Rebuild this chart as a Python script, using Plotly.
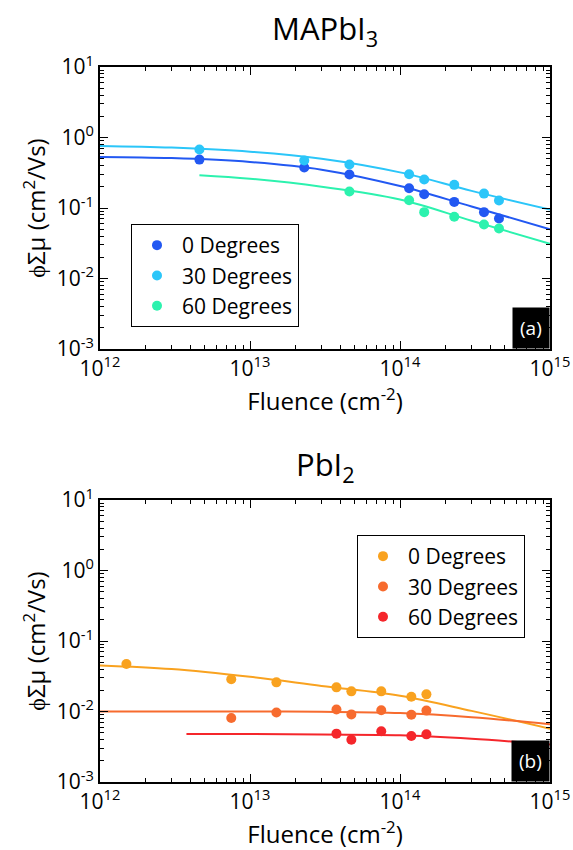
import plotly.graph_objects as go

# ---- data ----
# MAPbI3 measured points
mapbi_x = [4.6e12, 2.3e13, 4.6e13, 1.15e14, 1.45e14, 2.3e14, 3.63e14, 4.57e14]
mapbi_0 = [0.486, 0.375, 0.298, 0.191, 0.157, 0.122, 0.0873, 0.071]
mapbi_30 = [0.675, 0.471, 0.413, 0.301, 0.253, 0.213, 0.160, 0.128]
mapbi_x60 = [4.6e13, 1.15e14, 1.45e14, 2.3e14, 3.63e14, 4.57e14]
mapbi_60 = [0.171, 0.129, 0.0873, 0.075, 0.0583, 0.0513]

# MAPbI3 fit curves
fit_x = [1e12, 3e12, 1e13, 3e13, 1e14, 3e14, 1e15]
fit_mapbi_0 = [0.53, 0.51, 0.45, 0.35, 0.205, 0.105, 0.050]
fit_mapbi_30 = [0.76, 0.72, 0.63, 0.50, 0.32, 0.175, 0.095]
fit_x60 = [4.6e12, 1e13, 3e13, 1e14, 3e14, 1e15]
fit_mapbi_60 = [0.292, 0.26, 0.20, 0.132, 0.066, 0.031]

# PbI2 measured points
pbi_x0 = [1.5e12, 7.5e12, 1.5e13, 3.77e13, 4.74e13, 7.5e13, 1.19e14, 1.5e14]
pbi_0 = [0.0472, 0.0286, 0.0259, 0.0220, 0.0193, 0.0193, 0.0162, 0.0175]
pbi_x30 = [7.5e12, 1.5e13, 3.77e13, 4.74e13, 7.5e13, 1.19e14, 1.5e14]
pbi_30 = [0.0081, 0.0097, 0.0107, 0.0091, 0.0104, 0.0090, 0.0103]
pbi_x60 = [3.77e13, 4.74e13, 7.5e13, 1.19e14, 1.5e14]
pbi_60 = [0.00485, 0.00398, 0.00524, 0.00449, 0.00474]

# PbI2 fit curves
fit_pbi_0 = [0.045, 0.040, 0.031, 0.023, 0.0167, 0.0102, 0.0057]
fit_pbi_30 = [0.0100, 0.0100, 0.0100, 0.0099, 0.0095, 0.0083, 0.0066]
fit_px60 = [3.77e12, 1e13, 3e13, 1e14, 3e14, 1e15]
fit_pbi_60 = [0.0048, 0.0048, 0.0047, 0.0046, 0.0041, 0.0034]

labels = ["0 Degrees", "30 Degrees", "60 Degrees"]
blues = ["#2258f2", "#2bc6f9", "#2cf2ae"]
reds = ["#f9a21f", "#f76b2e", "#f5262b"]

FONT = "Open Sans"

fig = go.Figure()

top = [(mapbi_x, mapbi_0, fit_x, fit_mapbi_0),
       (mapbi_x, mapbi_30, fit_x, fit_mapbi_30),
       (mapbi_x60, mapbi_60, fit_x60, fit_mapbi_60)]
bot = [(pbi_x0, pbi_0, fit_x, fit_pbi_0),
       (pbi_x30, pbi_30, fit_x, fit_pbi_30),
       (pbi_x60, pbi_60, fit_px60, fit_pbi_60)]

for i, (px, py, fx, fy) in enumerate(top):
    fig.add_trace(go.Scatter(x=fx, y=fy, mode="lines", line=dict(color=blues[i], width=2, shape="spline"),
                             showlegend=False, xaxis="x", yaxis="y"))
for i, (px, py, fx, fy) in enumerate(top):
    fig.add_trace(go.Scatter(x=px, y=py, mode="markers", name=labels[i],
                             marker=dict(color=blues[i], size=10), xaxis="x", yaxis="y", legend="legend"))

for i, (px, py, fx, fy) in enumerate(bot):
    fig.add_trace(go.Scatter(x=fx, y=fy, mode="lines", line=dict(color=reds[i], width=2, shape="spline"),
                             showlegend=False, xaxis="x2", yaxis="y2"))
for i, (px, py, fx, fy) in enumerate(bot):
    fig.add_trace(go.Scatter(x=px, y=py, mode="markers", name=labels[i],
                             marker=dict(color=reds[i], size=10), xaxis="x2", yaxis="y2", legend="legend2"))

xticks = [1e12, 1e13, 1e14, 1e15]
xtext = ["10<sup>12</sup>", "10<sup>13</sup>", "10<sup>14</sup>", "10<sup>15</sup>"]
yticks = [1e-3, 1e-2, 1e-1, 1, 10]
ytext = ["10<sup>-3</sup>", "10<sup>-2</sup>", "10<sup>-1</sup>", "10<sup>0</sup>", "10<sup>1</sup>"]
# minor ticks at 2..9 within each decade
xminor = [m * 10 ** d for d in range(12, 15) for m in range(2, 10)]
yminor = [m * 10.0 ** d for d in range(-3, 1) for m in range(2, 10)]

ax_common = dict(type="log", showgrid=False, zeroline=False, showline=True, linecolor="black", linewidth=2,
                 mirror="ticks", ticks="inside", ticklen=8, tickwidth=1.3, tickcolor="black",
                 automargin=False, tickfont=dict(family=FONT, size=21, color="black"))

xa = dict(ax_common, range=[12, 15], tickvals=xticks, ticktext=xtext,
          minor=dict(tickvals=xminor, ticks="inside", ticklen=4, tickwidth=1, tickcolor="black", showgrid=False),
          title=dict(text="Fluence (cm<sup>-2</sup>)", font=dict(family=FONT, size=24, color="black"), standoff=4))
ya = dict(ax_common, range=[-3, 1], tickvals=yticks, ticktext=ytext,
          minor=dict(tickvals=yminor, ticks="inside", ticklen=4, tickwidth=1, tickcolor="black", showgrid=False),
          title=dict(text="\u03d5\u03a3\u03bc (cm<sup>2</sup>/Vs)", font=dict(family=FONT, size=24, color="black"), standoff=4))

leg_font = dict(family=FONT, size=21, color="black")

fig.update_layout(
    width=573, height=850, template="none",
    paper_bgcolor="white", plot_bgcolor="white",
    margin=dict(l=0, r=0, t=0, b=0),
    xaxis=dict(xa, domain=[100 / 573, 550 / 573], anchor="y"),
    yaxis=dict(ya, domain=[1 - 349 / 850, 1 - 67 / 850], anchor="x"),
    xaxis2=dict(xa, domain=[100 / 573, 550 / 573], anchor="y2"),
    yaxis2=dict(ya, domain=[1 - 782 / 850, 1 - 500 / 850], anchor="x2"),
    legend=dict(x=131 / 573, y=1 - 224 / 850, xanchor="left", yanchor="top", bordercolor="black", borderwidth=1,
                bgcolor="white", font=leg_font, itemwidth=40),
    legend2=dict(x=357 / 573, y=1 - 535 / 850, xanchor="left", yanchor="top", bordercolor="black", borderwidth=1,
                 bgcolor="white", font=leg_font, itemwidth=40),
    annotations=[
        dict(text="MAPbI<sub>3</sub>", xref="paper", yref="paper", x=325 / 573, y=1 - 30 / 850, showarrow=False,
             font=dict(family=FONT, size=31, color="black"), xanchor="center", yanchor="middle"),
        dict(text="PbI<sub>2</sub>", xref="paper", yref="paper", x=325 / 573, y=1 - 466 / 850, showarrow=False,
             font=dict(family=FONT, size=31, color="black"), xanchor="center", yanchor="middle"),
        dict(text="(a)", xref="x domain", yref="y domain", x=1, y=0, xanchor="right", yanchor="bottom",
             showarrow=False, bgcolor="black", borderpad=7, font=dict(family=FONT, size=19, color="white")),
        dict(text="(b)", xref="x2 domain", yref="y2 domain", x=1, y=0, xanchor="right", yanchor="bottom",
             showarrow=False, bgcolor="black", borderpad=7, font=dict(family=FONT, size=19, color="white")),
    ],
)

# drop the browser's default body margin so the figure sits at the page corner
fig.write_html("out.html", config={"displayModeBar": False},
               post_script="document.body.style.margin='0';")
